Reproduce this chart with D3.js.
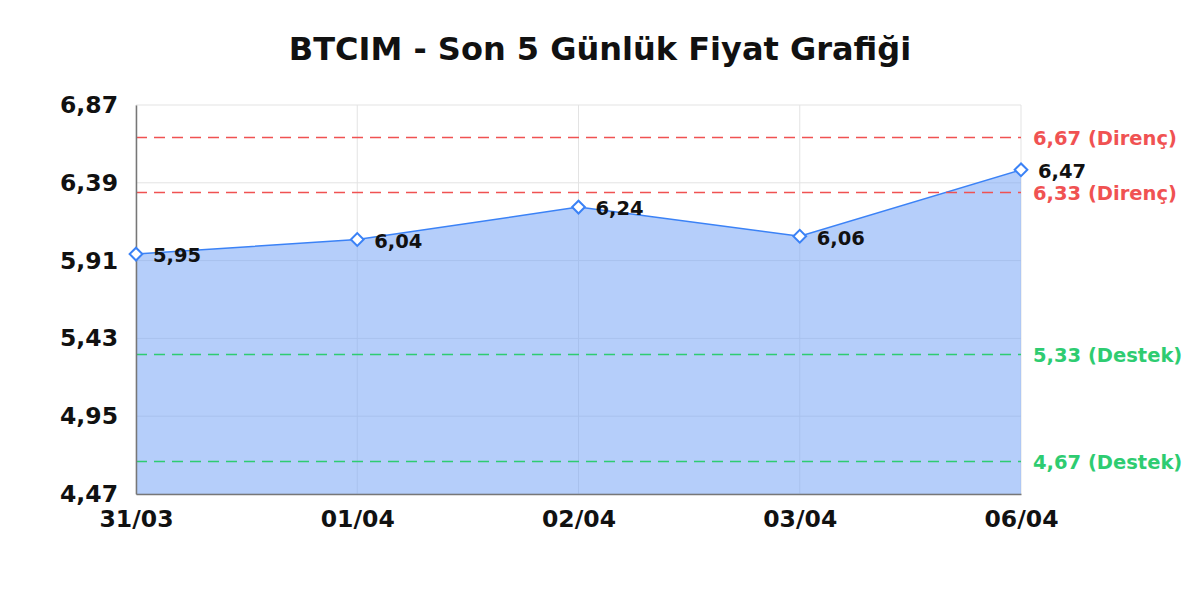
<!DOCTYPE html>
<html>
<head>
<meta charset="utf-8">
<script src="https://cdn.jsdelivr.net/npm/d3@7"></script>
<style>
  body { margin: 0; background: #fff; }
  text { font-family: "DejaVu Sans", sans-serif; }
</style>
</head>
<body>
<div id="chart"></div>
<script>
// data
var dates = ['31/03', '01/04', '02/04', '03/04', '06/04']
var prices = [5.95, 6.04, 6.24, 6.06, 6.47]
var yTicks = [4.47, 4.95, 5.43, 5.91, 6.39, 6.87]
var resistance = [6.67, 6.33]
var support = [5.33, 4.67]

var width = 1200
var height = 600
var margin = { top: 105, right: 179, bottom: 106, left: 136 }

var svg = d3.select('#chart').append('svg')
  .attr('width', width)
  .attr('height', height)

var fmt = v => v.toFixed(2).replace('.', ',')

var x = d3.scalePoint()
  .domain(dates)
  .range([margin.left, width - margin.right])

var y = d3.scaleLinear()
  .domain([4.47, 6.87])
  .range([height - margin.bottom, margin.top])

// title
svg.append('text')
  .attr('x', width / 2)
  .attr('y', 60)
  .attr('text-anchor', 'middle')
  .style('font-size', '32px')
  .style('font-weight', 'bold')
  .attr('fill', '#111')
  .text('BTCIM - Son 5 Günlük Fiyat Grafiği')

// grid
svg.append('g')
  .attr('stroke', '#e3e3e3')
  .selectAll('line.h')
  .data(yTicks)
  .enter()
  .append('line')
  .attr('x1', margin.left)
  .attr('x2', width - margin.right)
  .attr('y1', d => y(d))
  .attr('y2', d => y(d))

svg.append('g')
  .attr('stroke', '#e3e3e3')
  .selectAll('line.v')
  .data(dates)
  .enter()
  .append('line')
  .attr('x1', d => x(d))
  .attr('x2', d => x(d))
  .attr('y1', margin.top)
  .attr('y2', height - margin.bottom)

// area + line
var pts = dates.map((d, i) => ({ date: d, value: prices[i] }))

svg.append('path')
  .datum(pts)
  .attr('fill', 'rgba(120,165,245,0.55)')
  .attr('d', d3.area()
    .x(d => x(d.date))
    .y0(y(4.47))
    .y1(d => y(d.value)))

svg.append('path')
  .datum(pts)
  .attr('fill', 'none')
  .attr('stroke', '#3b82f6')
  .attr('stroke-width', 1.5)
  .attr('d', d3.line()
    .x(d => x(d.date))
    .y(d => y(d.value)))

// support / resistance lines
var levels = resistance.map(v => ({ v: v, label: 'Direnç', color: '#f05252' }))
  .concat(support.map(v => ({ v: v, label: 'Destek', color: '#2ecc71' })))

var lv = svg.append('g')
lv.selectAll('line')
  .data(levels)
  .enter()
  .append('line')
  .attr('x1', margin.left)
  .attr('x2', width - margin.right)
  .attr('y1', d => y(d.v))
  .attr('y2', d => y(d.v))
  .attr('stroke', d => d.color)
  .attr('stroke-width', 1.5)
  .attr('stroke-dasharray', '11,7')

lv.selectAll('text')
  .data(levels)
  .enter()
  .append('text')
  .attr('x', width - margin.right + 12)
  .attr('y', d => y(d.v))
  .attr('dy', '0.38em')
  .attr('fill', d => d.color)
  .style('font-size', '19.5px')
  .style('font-weight', 'bold')
  .text(d => fmt(d.v) + ' (' + d.label + ')')

// axes
var yAxis = g => g
  .attr('transform', `translate(${margin.left},0)`)
  .call(d3.axisLeft(y).tickValues(yTicks).tickFormat(fmt).tickSize(0).tickPadding(18))
  .call(g => g.select('.domain').attr('stroke', '#777').attr('stroke-width', 1.5))
  .call(g => g.selectAll('text')
    .attr('fill', '#111')
    .style('font-size', '23.5px')
    .style('font-weight', 'bold')
    .style('font-family', '"DejaVu Sans", sans-serif'))

var xAxis = g => g
  .attr('transform', `translate(0,${height - margin.bottom})`)
  .call(d3.axisBottom(x).tickSize(0).tickPadding(16))
  .call(g => g.select('.domain').attr('stroke', '#777').attr('stroke-width', 1.5))
  .call(g => g.selectAll('text')
    .attr('fill', '#111')
    .style('font-size', '23.5px')
    .style('font-weight', 'bold')
    .style('font-family', '"DejaVu Sans", sans-serif'))

svg.append('g').call(yAxis)
svg.append('g').call(xAxis)

// markers
svg.append('g')
  .selectAll('path')
  .data(pts)
  .enter()
  .append('path')
  .attr('transform', d => `translate(${x(d.date)},${y(d.value)}) rotate(45)`)
  .attr('d', 'M-4.5,-4.5H4.5V4.5H-4.5Z')
  .attr('fill', '#fff')
  .attr('stroke', '#3b82f6')
  .attr('stroke-width', 2)

// point labels
svg.append('g')
  .selectAll('text')
  .data(pts)
  .enter()
  .append('text')
  .attr('x', d => x(d.date) + 17)
  .attr('y', d => y(d.value) + 1.5)
  .attr('dy', '0.35em')
  .attr('fill', '#111')
  .style('font-size', '19.5px')
  .style('font-weight', 'bold')
  .text(d => fmt(d.value))
</script>
</body>
</html>
